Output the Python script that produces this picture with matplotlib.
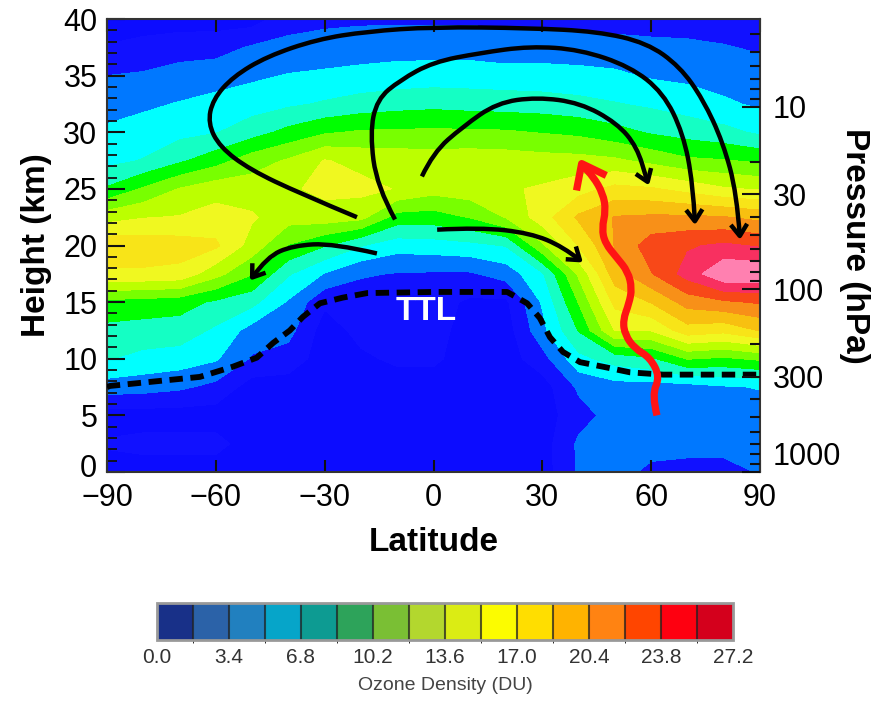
import numpy as np
import matplotlib
matplotlib.use("Agg")
import matplotlib.pyplot as plt
from matplotlib.colors import ListedColormap, BoundaryNorm
from matplotlib.path import Path
from matplotlib.patches import FancyArrowPatch
from matplotlib.ticker import MultipleLocator, FixedLocator
from matplotlib.transforms import ScaledTranslation
import matplotlib.colorbar as mcolorbar

plt.rcParams['font.family'] = ['Liberation Sans', 'DejaVu Sans']

# ---------------- data ----------------
latitudes = [-90, -80, -70, -60, -50, -40, -30, -20, -10, 0, 10, 20, 30, 40, 50, 60, 70, 80, 90]
heights = [0, 2.5, 5, 7.5, 10, 12.5, 15, 17.5, 20, 22.5, 25, 27.5, 30, 32.5, 35, 37.5, 40]

# ozone density (DU), one list per latitude, heights 0 -> 40 km
ozone_by_lat = [
    [2.6, 3.6, 2.6, 6.0, 8.6, 9.7, 11.4, 16.7, 18.2, 14.6, 10.4, 8.0, 7.1, 6.1, 5.1, 3.5, 2.6],   # -90
    [2.6, 3.9, 2.6, 5.8, 8.0, 9.5, 11.2, 16.7, 18.0, 15.2, 12.1, 8.6, 7.5, 6.5, 5.3, 3.9, 2.6],   # -80
    [2.6, 3.9, 2.6, 5.4, 7.7, 9.4, 10.9, 16.5, 17.8, 15.4, 13.7, 9.9, 8.0, 6.9, 5.8, 4.3, 2.6],   # -70
    [2.6, 3.9, 2.6, 4.6, 7.0, 8.2, 9.9, 14.2, 17.3, 16.0, 14.6, 11.2, 8.4, 7.3, 6.1, 4.4, 2.6],   # -60
    [2.6, 2.6, 2.6, 2.6, 4.9, 6.1, 9.0, 12.0, 14.6, 15.5, 14.5, 12.8, 9.5, 7.7, 6.5, 5.3, 2.6],   # -50
    [2.6, 2.6, 2.6, 2.6, 4.3, 5.7, 6.6, 8.7, 11.8, 14.3, 15.0, 13.8, 10.7, 8.2, 6.9, 5.6, 4.4],   # -40
    [2.6, 2.6, 2.6, 2.6, 2.6, 2.6, 3.7, 6.7, 10.3, 14.5, 15.8, 15.4, 11.7, 8.7, 7.1, 5.8, 4.7],   # -30
    [2.6, 2.6, 2.6, 2.6, 3.1, 3.9, 4.1, 5.3, 8.6, 14.1, 15.8, 14.8, 12.1, 9.2, 7.3, 6.0, 4.8],    # -20
    [2.6, 2.6, 2.6, 2.6, 3.7, 4.0, 4.1, 5.0, 7.5, 11.2, 15.2, 14.6, 12.2, 9.5, 7.5, 6.1, 4.8],    # -10
    [2.6, 2.6, 2.6, 2.6, 3.7, 4.0, 4.1, 4.9, 7.7, 11.1, 14.3, 14.5, 12.2, 9.7, 7.6, 6.1, 4.8],    # 0
    [2.6, 2.6, 2.6, 2.6, 2.6, 2.7, 3.1, 4.9, 8.0, 12.0, 14.6, 14.6, 12.2, 9.5, 7.6, 6.1, 4.8],    # 10
    [2.6, 2.6, 2.6, 2.6, 2.6, 2.6, 3.1, 5.8, 8.6, 13.7, 15.1, 14.5, 12.1, 9.4, 7.5, 5.8, 4.8],    # 20
    [2.6, 2.6, 2.6, 2.6, 4.4, 6.3, 7.0, 8.3, 13.3, 16.2, 15.5, 14.3, 11.8, 9.3, 7.4, 6.0, 4.6],   # 30
    [5.3, 5.4, 4.4, 5.4, 8.0, 10.3, 12.0, 13.9, 17.1, 19.0, 16.3, 14.2, 11.5, 9.0, 7.3, 5.9, 4.4],  # 40
    [5.6, 5.8, 5.8, 6.1, 9.2, 15.4, 17.5, 19.6, 20.5, 20.5, 17.5, 13.9, 10.8, 8.6, 7.1, 5.8, 4.3], # 50
    [4.8, 5.6, 5.8, 6.1, 9.9, 15.4, 18.8, 22.0, 23.0, 20.7, 17.2, 13.1, 10.0, 8.2, 6.6, 5.5, 4.4], # 60
    [4.6, 5.6, 6.0, 6.1, 12.0, 18.0, 21.1, 24.5, 23.6, 20.7, 16.4, 12.2, 9.5, 7.7, 6.4, 5.4, 4.4], # 70
    [4.6, 5.6, 6.0, 6.6, 11.6, 17.5, 21.8, 27.0, 24.1, 20.5, 15.5, 12.0, 9.0, 7.1, 6.0, 5.2, 4.3], # 80
    [5.2, 5.6, 6.0, 6.9, 12.2, 18.8, 22.3, 26.9, 23.6, 19.9, 15.1, 11.6, 8.2, 6.5, 5.8, 4.9, 4.2], # 90
]

levels = [0.0, 1.7, 3.4, 5.1, 6.8, 8.5, 10.2, 11.9, 13.6, 15.3, 17.0, 18.7, 20.4, 22.1, 23.8, 25.5, 27.2]
colorbar_ticks = [0.0, 3.4, 6.8, 10.2, 13.6, 17.0, 20.4, 23.8, 27.2]

field_colors = ['#0000ee', '#0c0cff', '#1111ff', '#0078ff', '#00ffff', '#14ffc4', '#00ff00', '#78ff00',
                '#bcff00', '#f0f820', '#f8e418', '#f8c010', '#f89018', '#f84818', '#f83060', '#ff80b0']
colorbar_colors = ['#183088', '#2b62a8', '#2180bf', '#06a5c9', '#0d9b92', '#2da35a', '#7abf34', '#b3d72e',
                   '#dbec14', '#fcfc00', '#ffde00', '#ffb300', '#ff8312', '#ff4500', '#fe0010', '#d4001c']

# tropopause (TTL) dashed line
ttl_lat = [-90, -89.2, -64.4, -55.3, -48.7, -44.2, -39.6, -36.0, -31.3, -25.0, -18.3, -0.1, 20.3, 25.8,
           29.3, 32.1, 35.7, 40.4, 46.7, 54.2, 63.3, 90]
ttl_height = [7.5, 7.6, 8.4, 9.3, 10.1, 11.4, 12.5, 13.7, 14.9, 15.4, 15.8, 15.9, 15.9, 14.9,
              13.6, 11.9, 10.6, 9.7, 9.3, 8.8, 8.6, 8.6]

# circulation arrows (lat, height)
arrow_outer_lat = [-21.1, -36.8, -50.6, -58.9, -62.2, -60.8, -55.3, -45.9, -32.1, -18.3, -0.1, 26.6, 45.1,
                   58.8, 67.9, 74.3, 79.8, 83.6, 84.5]
arrow_outer_h = [22.5, 24.6, 26.7, 28.7, 30.8, 32.9, 34.9, 36.7, 38.2, 38.9, 39.3, 39.2, 38.9,
                 37.9, 35.8, 32.9, 29.1, 24.6, 20.5]
arrow_mid_lat = [-10.6, -15.6, -17.5, -15.6, -9.2, -0.1, 12.8, 26.6, 40.4, 54.2, 63.3, 68.8, 71.5, 72.1]
arrow_mid_h = [22.3, 25.2, 29.9, 32.9, 34.6, 36.2, 37.0, 37.6, 37.3, 35.8, 33.5, 29.9, 25.5, 21.8]
arrow_inner_lat = [-3.2, -0.1, 8.1, 17.5, 28.5, 40.4, 50.6, 56.1, 58.8, 59.4]
arrow_inner_h = [26.1, 28.2, 30.5, 32.6, 33.1, 32.6, 30.8, 28.7, 25.8, 25.3]
arrow_sh_lat = [-15.6, -27.7, -38.7, -45.9, -50.6]
arrow_sh_h = [19.3, 20.2, 20.0, 19.0, 16.9]
arrow_nh_lat = [1.0, 12.8, 26.6, 35.7, 41.2]
arrow_nh_h = [21.4, 21.6, 21.1, 19.9, 18.5]
red_lat = [61.6, 60.2, 62.4, 59.7, 55.5, 52.8, 52.2, 53.9, 54.7, 53.6, 50.6, 47.3, 46.4, 47.5, 46.7,
           44.0, 41.2, 40.1]
red_h = [5.0, 6.8, 8.4, 10.1, 10.9, 12.1, 13.4, 14.9, 16.2, 17.7, 18.9, 20.2, 21.5, 23.1, 24.6,
         26.1, 27.0, 27.7]

pressure_labels = [10, 30, 100, 300, 1000]
pressure_minor = [4, 5, 6, 7, 8, 9, 20, 40, 50, 60, 70, 80, 90, 200, 400, 500, 600, 700, 800, 900]
scale_height_km = 7.0

# ---------------- figure ----------------
fig = plt.figure(figsize=(8.82, 7.04), dpi=100)
ax = fig.add_axes([0.1213, 0.3295, 0.7404, 0.6435])

Z = np.array(ozone_by_lat).T
ax.contourf(latitudes, heights, Z, levels=levels, colors=field_colors)

ax.set_xlim(-90, 90)
ax.set_ylim(0, 40)
ax.set_xticks([-90, -60, -30, 0, 30, 60, 90])
ax.set_yticks(range(0, 41, 5))
ax.yaxis.set_minor_locator(MultipleLocator(1))
ax.tick_params(axis='both', which='both', direction='in', top=True, right=False,
               labelsize=22, width=1.5, color='#111111')
ax.tick_params(axis='x', which='major', length=9, pad=8)
ax.tick_params(axis='y', which='major', length=13, pad=7)
ax.tick_params(axis='y', which='minor', length=7, width=1.3)
for s in ax.spines.values():
    s.set_linewidth(1.5)
    s.set_color('#333333')

ax.set_xlabel('Latitude', fontsize=24, fontweight='bold', labelpad=10)
ax.set_ylabel('Height (km)', fontsize=24, fontweight='bold', labelpad=8)

ax2 = ax.twinx()
ax2.set_ylim(0, 40)
ax2.yaxis.set_major_locator(FixedLocator([scale_height_km * np.log(1000.0 / p) for p in pressure_labels]))
ax2.set_yticklabels([str(p) for p in pressure_labels])
ax2.yaxis.set_minor_locator(FixedLocator([scale_height_km * np.log(1000.0 / p) for p in pressure_minor]))
ax2.tick_params(axis='y', which='both', direction='in', labelsize=22, width=1.5, color='#111111')
ax2.tick_params(axis='y', which='major', length=13, pad=9)
ax2.tick_params(axis='y', which='minor', length=7)
ax2.get_yticklabels()[-1].set_va('bottom')
ax2.set_ylabel('Pressure (hPa)', fontsize=24, fontweight='bold', rotation=270, labelpad=21)
for s in ax2.spines.values():
    s.set_visible(False)

# lift the "0" height label slightly, as in the original
zero_lbl = ax.get_yticklabels()[0]
zero_lbl.set_transform(zero_lbl.get_transform() + ScaledTranslation(0, 5 / 72, fig.dpi_scale_trans))

# TTL dashed line
ax.plot(ttl_lat, ttl_height, color='black', lw=4.2, dashes=(2.3, 1.3), solid_capstyle='butt',
        dash_capstyle='butt', zorder=5)


def smooth_path(lats, hs):
    pts = list(zip(lats, hs))
    verts = [pts[0]]
    codes = [Path.MOVETO]
    n = len(pts)
    if n == 2:
        verts.append(pts[1])
        codes.append(Path.LINETO)
        return Path(verts, codes)
    for i in range(1, n - 1):
        ctrl = pts[i]
        if i < n - 2:
            end = ((pts[i][0] + pts[i + 1][0]) / 2.0, (pts[i][1] + pts[i + 1][1]) / 2.0)
        else:
            end = pts[n - 1]
        verts += [ctrl, end]
        codes += [Path.CURVE3, Path.CURVE3]
    return Path(verts, codes)


for la, hh in [(arrow_outer_lat, arrow_outer_h), (arrow_mid_lat, arrow_mid_h),
               (arrow_inner_lat, arrow_inner_h), (arrow_sh_lat, arrow_sh_h),
               (arrow_nh_lat, arrow_nh_h)]:
    arr = FancyArrowPatch(path=smooth_path(la, hh),
                          arrowstyle='->,head_length=0.6,head_width=0.42',
                          mutation_scale=14, lw=3.2, color='black', zorder=6,
                          capstyle='butt')
    ax.add_patch(arr)

red = FancyArrowPatch(path=smooth_path(red_lat, red_h),
                      arrowstyle='->,head_length=0.65,head_width=0.5',
                      mutation_scale=24, lw=5.2, color='#ff1414', zorder=7, capstyle='butt')
ax.add_patch(red)

ax.text(-2.1, 14.2, 'TTL', color='white', fontsize=24, fontweight='bold',
        ha='center', va='center', zorder=8)

# ---------------- colorbar ----------------
cax = fig.add_axes([0.178, 0.0909, 0.653, 0.0526])
cb = mcolorbar.ColorbarBase(cax, cmap=ListedColormap(colorbar_colors),
                            norm=BoundaryNorm(levels, len(colorbar_colors)),
                            orientation='horizontal', drawedges=True, ticks=colorbar_ticks)
cb.set_ticklabels(['%.1f' % t for t in colorbar_ticks])
cb.dividers.set_color('#222222')
cb.dividers.set_linewidth(1.5)
cb.dividers.set_alpha(0.75)
cb.outline.set_edgecolor('#999999')
cb.outline.set_linewidth(2)
cax.tick_params(length=0, labelsize=15, labelcolor='#333333', pad=6)
cb.set_label('Ozone Density (DU)', fontsize=14, color='#444444', labelpad=7)

fig.savefig('out.png', dpi=100)
